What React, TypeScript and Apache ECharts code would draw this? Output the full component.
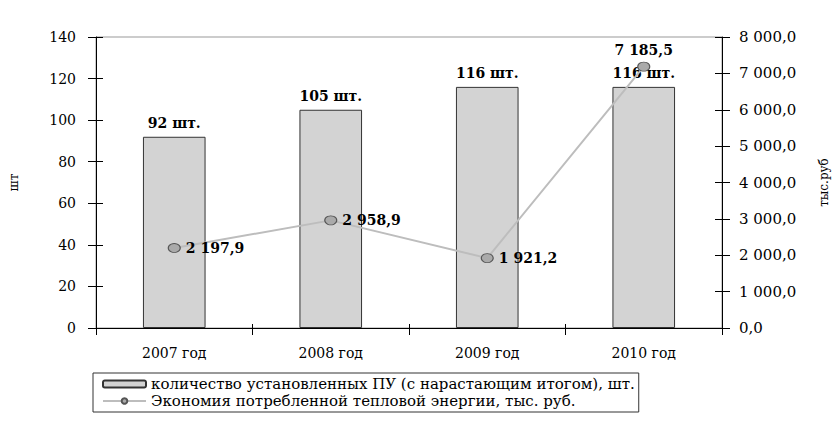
import React, { useEffect, useRef } from "react";
import * as echarts from "echarts";

const categories = ["2007 год", "2008 год", "2009 год", "2010 год"];
const installedCount = [92, 105, 116, 116];
const savings = [2197.9, 2958.9, 1921.2, 7185.5];
const seriesNames = [
  "количество установленных ПУ (с нарастающим итогом), шт.",
  "Экономия потребленной тепловой энергии, тыс. руб.",
];
const leftAxisName = "шт";
const rightAxisName = "тыс.руб";

const FONT = "DejaVu Serif";

function fmt(v: number): string {
  const s = v.toFixed(1);
  const [intPart, dec] = s.split(".");
  const withSpaces = intPart.replace(/\B(?=(\d{3})+(?!\d))/g, " ");
  return withSpaces + "," + dec;
}

export default function App() {
  const ref = useRef<HTMLDivElement>(null);
  useEffect(() => {
    if (!ref.current) return;
    const chart = echarts.init(ref.current, null, { renderer: "svg" });
    const labelPositions = ["right", "right", "right", "top"];
    const innerTicks = {
      axisLine: { show: false },
      axisLabel: { show: false },
      splitLine: { show: false },
      axisTick: { show: true, inside: true, length: 7, lineStyle: { color: "#000" } },
    };
    chart.setOption({
      animation: false,
      textStyle: { fontFamily: FONT, color: "#000" },
      grid: {
        left: 96,
        right: 113,
        top: 37,
        bottom: 93,
        show: true,
        borderColor: "#999",
        borderWidth: 1,
      },
      legend: {
        orient: "vertical",
        left: 93,
        top: 373,
        borderColor: "#333",
        borderWidth: 1,
        padding: [3, 4, 3, 9],
        itemGap: 1,
        itemWidth: 43,
        itemHeight: 7,
        textStyle: { fontFamily: FONT, fontSize: 15, lineHeight: 16, color: "#000" },
        data: seriesNames,
      },
      xAxis: [
        {
          type: "category",
          data: categories,
          axisLine: { lineStyle: { color: "#000", width: 1 } },
          axisTick: { show: true, length: 7, lineStyle: { color: "#000" } },
          axisLabel: { color: "#000", fontFamily: FONT, fontSize: 14, margin: 18 },
        },
        {
          type: "category",
          data: categories,
          position: "bottom",
          ...innerTicks,
          axisTick: { show: true, inside: true, length: 4, lineStyle: { color: "#000" } },
        },
      ],
      yAxis: [
        {
          type: "value",
          min: 0,
          max: 140,
          interval: 20,
          name: leftAxisName,
          nameLocation: "middle",
          nameGap: 76,
          nameRotate: 90,
          nameTextStyle: { fontFamily: FONT, fontSize: 12, color: "#000" },
          splitLine: { show: false },
          axisLine: { show: true, lineStyle: { color: "#000" } },
          axisTick: { show: true, length: 8, lineStyle: { color: "#000" } },
          axisLabel: { color: "#000", fontFamily: FONT, fontSize: 14, margin: 20 },
        },
        {
          type: "value",
          min: 0,
          max: 8000,
          interval: 1000,
          position: "right",
          name: rightAxisName,
          nameLocation: "middle",
          nameGap: 96,
          nameRotate: 90,
          nameTextStyle: { fontFamily: FONT, fontSize: 12, color: "#000" },
          splitLine: { show: false },
          axisLine: { show: true, lineStyle: { color: "#000" } },
          axisTick: { show: true, length: 8, lineStyle: { color: "#000" } },
          axisLabel: {
            color: "#000",
            fontFamily: FONT,
            fontSize: 15,
            margin: 17,
            formatter: (v: number) => fmt(v),
          },
        },
        {
          type: "value",
          min: 0,
          max: 140,
          interval: 20,
          position: "left",
          offset: 0,
          ...innerTicks,
        },
        {
          type: "value",
          min: 0,
          max: 8000,
          interval: 1000,
          position: "right",
          offset: 0,
          ...innerTicks,
        },
      ],
      series: [
        {
          name: seriesNames[0],
          type: "bar",
          yAxisIndex: 0,
          data: installedCount,
          barWidth: "40%",
          itemStyle: { color: "#d3d3d3", borderColor: "#333", borderWidth: 1 },
          label: {
            show: true,
            position: "top",
            distance: 7,
            fontFamily: FONT,
            fontSize: 14,
            fontWeight: "bold",
            color: "#000",
            formatter: (p: any) => p.value + " шт.",
          },
        },
        {
          name: seriesNames[1],
          type: "line",
          yAxisIndex: 1,
          data: savings.map((v, i) => ({
            value: v,
            label: { position: labelPositions[i] },
          })),
          symbol: "circle",
          symbolSize: [12, 9],
          lineStyle: { color: "#bdbdbd", width: 2 },
          itemStyle: { color: "#aaaaaa", borderColor: "#555", borderWidth: 1 },
          label: {
            show: true,
            distance: 5,
            fontFamily: FONT,
            fontSize: 14,
            fontWeight: "bold",
            color: "#000",
            formatter: (p: any) => fmt(p.value),
          },
        },
      ],
    });
    return () => chart.dispose();
  }, []);
  return <div ref={ref} style={{ width: 838, height: 421, position: "absolute", left: 0, top: 0 }} />;
}
